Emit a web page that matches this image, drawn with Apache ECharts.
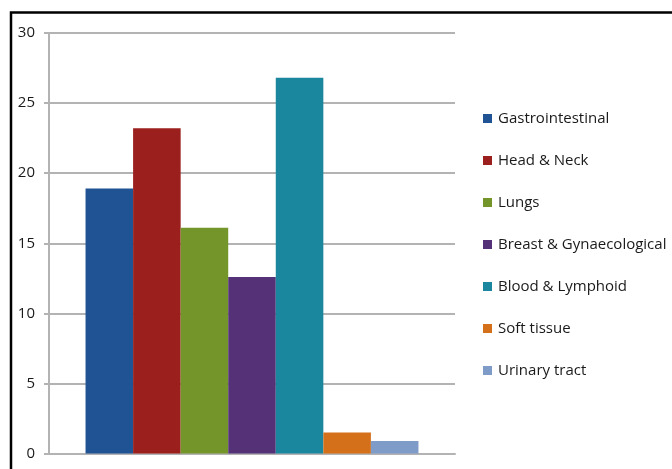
<!DOCTYPE html>
<html>
<head>
<meta charset="utf-8">
<script src="https://cdn.jsdelivr.net/npm/echarts@6/dist/echarts.min.js"></script>
<style>html,body{margin:0;padding:0;background:#fff}#c{width:672px;height:469px}</style>
</head>
<body>
<div id="c"></div>
<script>
const categories = [''];
const seriesNames = ['Gastrointestinal', 'Head & Neck', 'Lungs', 'Breast & Gynaecological', 'Blood & Lymphoid', 'Soft tissue', 'Urinary tract'];
const seriesValues = [18.9, 23.2, 16.1, 12.6, 26.8, 1.5, 0.9];
const seriesColors = ['#1f5393', '#9b1f1c', '#74952a', '#553178', '#1b879e', '#d5701a', '#7f9bc7'];
const yTicks = [0, 5, 10, 15, 20, 25, 30];

const chart = echarts.init(document.getElementById('c'), null, {renderer: 'canvas'});
const series = seriesNames.map((n, i) => ({
  name: n,
  type: 'bar',
  data: [seriesValues[i]],
  barGap: '0%',
  barCategoryGap: '18%',
  itemStyle: {color: seriesColors[i]}
}));
chart.setOption({
  animation: false,
  backgroundColor: '#fff',
  textStyle: {fontFamily: 'Open Sans'},
  grid: {left: 49, right: 217, top: 33, bottom: 15.5, containLabel: false},
  xAxis: {
    type: 'category', data: categories,
    axisLine: {show: true, lineStyle: {color: '#b3b3b3', width: 2}},
    axisTick: {show: false}, axisLabel: {show: false}
  },
  yAxis: {
    type: 'value', min: yTicks[0], max: yTicks[yTicks.length - 1], interval: 5,
    axisLine: {show: true, lineStyle: {color: '#b3b3b3', width: 2}},
    axisTick: {show: true, length: 5, lineStyle: {color: '#b3b3b3', width: 2}},
    splitLine: {show: true, lineStyle: {color: '#b3b3b3', width: 2}},
    axisLabel: {color: '#1a1a1a', fontSize: 15, margin: 14, fontFamily: 'Open Sans'}
  },
  legend: {
    orient: 'vertical', left: 483, top: 111, padding: 0,
    itemWidth: 9, itemHeight: 9, itemGap: 27, icon: 'rect',
    textStyle: {color: '#1a1a1a', fontSize: 15, fontFamily: 'Open Sans', padding: [0, 0, 0, 1]},
    data: seriesNames
  },
  graphic: [{
    type: 'rect', silent: true,
    shape: {x: 11, y: 12.5, width: 700, height: 500},
    style: {fill: 'none', stroke: '#000', lineWidth: 2.5}
  }],
  series: series
});
</script>
</body>
</html>
